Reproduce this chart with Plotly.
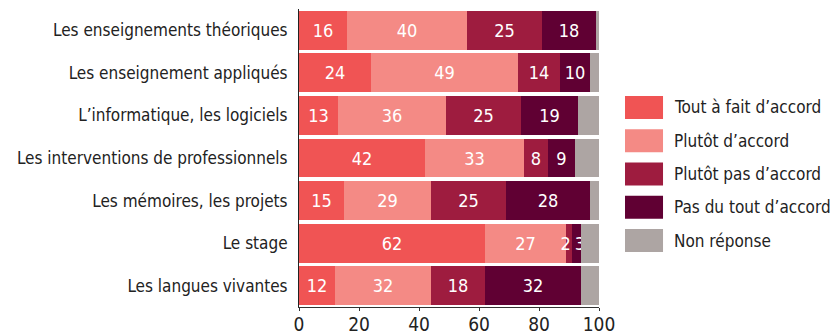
import plotly.graph_objects as go

categories = [
    "Les enseignements théoriques",
    "Les enseignement appliqués",
    "L’informatique, les logiciels",
    "Les interventions de professionnels",
    "Les mémoires, les projets",
    "Le stage",
    "Les langues vivantes",
]

tout_a_fait = [16, 24, 13, 42, 15, 62, 12]
plutot_accord = [40, 49, 36, 33, 29, 27, 32]
plutot_pas = [25, 14, 25, 8, 25, 2, 18]
pas_du_tout = [18, 10, 19, 9, 28, 3, 32]
non_reponse = [1, 3, 7, 8, 3, 6, 6]

series_names = [
    "Tout à fait d’accord",
    "Plutôt d’accord",
    "Plutôt pas d’accord",
    "Pas du tout d’accord",
    "Non réponse",
]
series_values = [tout_a_fait, plutot_accord, plutot_pas, pas_du_tout, non_reponse]
series_colors = ["#F05454", "#F48A85", "#9E1C3F", "#600033", "#ADA5A3"]
series_labelled = [True, True, True, True, False]

x_ticks = [0, 20, 40, 60, 80, 100]

FONT = "DejaVu Sans Condensed, Liberation Sans Narrow, Arial Narrow, sans-serif"
NARROW = 3  # segments this small get their label nudged away from a small neighbour
PAD = "\u00a0\u200a"

# Build label strings; two adjacent narrow segments get their labels pushed apart
labels = [[str(v) for v in vals] for vals in series_values]
for s in range(len(series_values) - 1):
    if not (series_labelled[s] and series_labelled[s + 1]):
        continue
    for r in range(len(categories)):
        if series_values[s][r] <= NARROW and series_values[s + 1][r] <= NARROW:
            labels[s][r] = labels[s][r] + PAD
            labels[s + 1][r] = PAD + labels[s + 1][r]

fig = go.Figure()
for name, vals, color, labelled, txt in zip(series_names, series_values, series_colors,
                                            series_labelled, labels):
    fig.add_trace(go.Bar(
        y=categories,
        x=vals,
        name=name,
        orientation="h",
        marker=dict(color=color, line=dict(width=0)),
        text=txt if labelled else None,
        textposition="inside" if labelled else "none",
        insidetextanchor="middle",
        constraintext="none",
        textangle=0,
        textfont=dict(family=FONT, size=18, color="white"),
        showlegend=False,
        hoverinfo="x+y+name",
    ))

# Legend drawn as square swatches with labels to the right of the plot
leg_x0, leg_y0, leg_step, sw_w, sw_h = 1.0867, 0.708, 0.1116, 0.1267, 0.077
for i, (name, color) in enumerate(zip(series_names, series_colors)):
    y_top = leg_y0 - i * leg_step
    fig.add_shape(type="rect", xref="paper", yref="paper",
                  x0=leg_x0, x1=leg_x0 + sw_w, y0=y_top - sw_h, y1=y_top,
                  fillcolor=color, line=dict(width=0))
    fig.add_annotation(xref="paper", yref="paper", x=leg_x0 + 0.158, y=y_top - sw_h / 2,
                       text=name, showarrow=False, xanchor="left", yanchor="middle",
                       font=dict(family=FONT, size=17, color="#222222"))

fig.update_layout(
    barmode="stack",
    bargap=0.09,
    width=833,
    height=334,
    margin=dict(l=299, r=234, t=9, b=27),
    paper_bgcolor="white",
    plot_bgcolor="white",
    xaxis=dict(
        range=[0, 100],
        tickvals=x_ticks,
        ticktext=[str(t) for t in x_ticks],
        showgrid=False,
        zeroline=False,
        showline=True,
        linecolor="#333333",
        linewidth=1,
        ticks="outside",
        ticklen=3,
        tickcolor="#333333",
        ticklabelstandoff=-3,
        tickfont=dict(family=FONT, size=19, color="#222222"),
        automargin=False,
        fixedrange=True,
    ),
    yaxis=dict(
        categoryorder="array",
        categoryarray=categories[::-1],
        showgrid=False,
        zeroline=False,
        showline=True,
        linecolor="#222222",
        linewidth=1,
        ticks="",
        ticklabelstandoff=7,
        tickfont=dict(family=FONT, size=17, color="#222222"),
        automargin=False,
        fixedrange=True,
    ),
)

fig.write_html("out.html")
